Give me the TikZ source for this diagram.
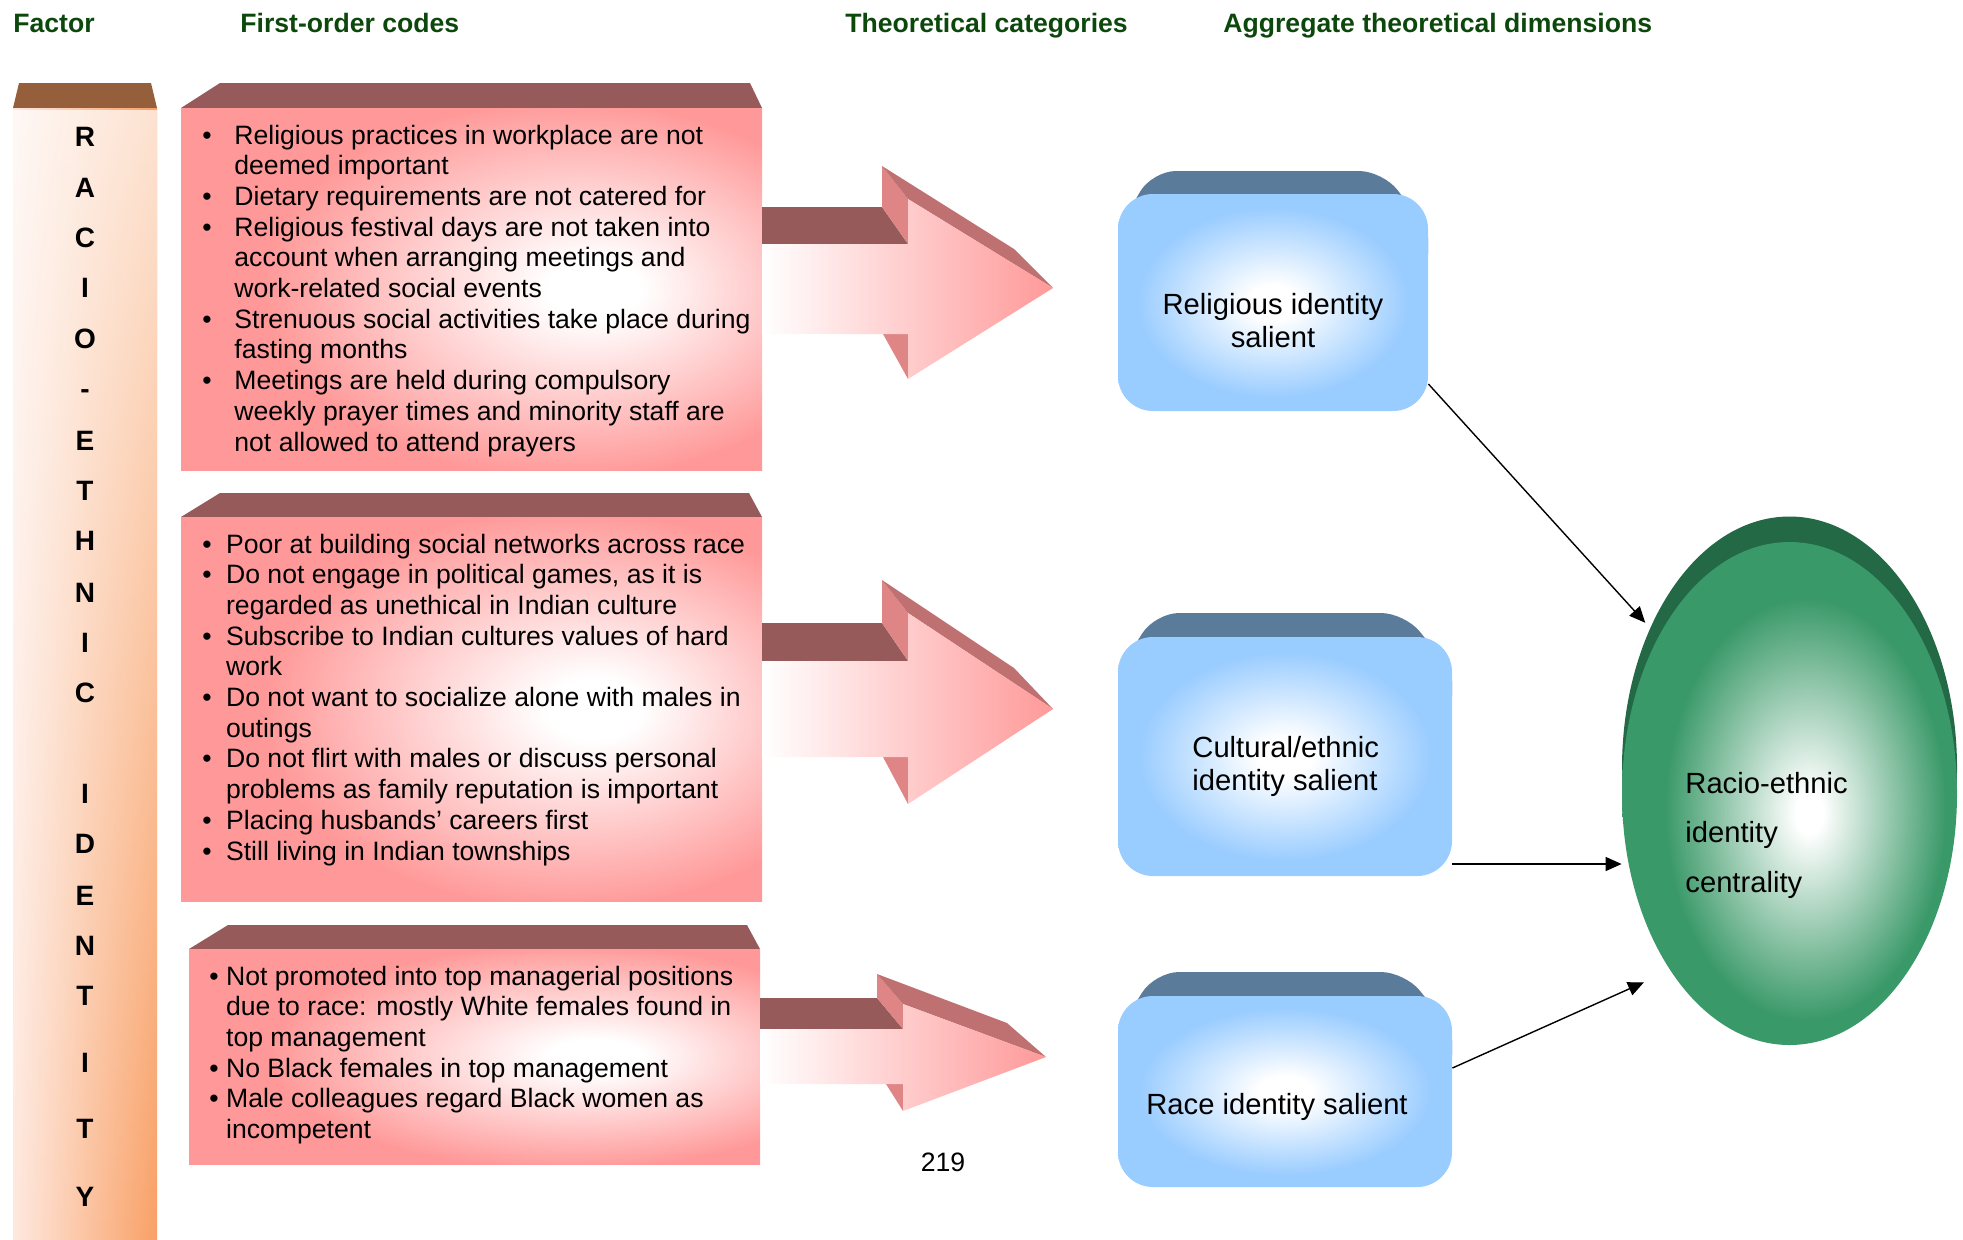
\documentclass[tikz,border=0pt]{standalone}
\usepackage{fontspec}
\setmainfont{Liberation Sans}
\usepackage{tikz}
\usetikzlibrary{shapes.geometric,arrows.meta,fadings}

\definecolor{hdrgreen}{RGB}{12,72,12}
\definecolor{factortop}{RGB}{150,95,60}
\definecolor{factorpale}{RGB}{254,233,223}
\definecolor{factororange}{RGB}{249,160,102}
\definecolor{pinkbase}{RGB}{255,153,153}
\definecolor{pinktop}{RGB}{150,90,90}
\definecolor{arrowside}{RGB}{224,133,133}
\definecolor{arrowslant}{RGB}{191,112,112}
\definecolor{bluebase}{RGB}{153,204,255}
\definecolor{bluetop}{RGB}{91,123,155}
\definecolor{greenbase}{RGB}{58,153,104}
\definecolor{greendark}{RGB}{35,105,70}

\pgfdeclareradialshading{pinkglow}{\pgfpoint{11bp}{0bp}}{color(0bp)=(white); color(4bp)=(white); color(26bp)=(pinkbase); color(100bp)=(pinkbase)}
\pgfdeclareradialshading{blueglow}{\pgfpoint{0bp}{0bp}}{color(0bp)=(white); color(4bp)=(white); color(22bp)=(bluebase); color(100bp)=(bluebase)}
\pgfdeclareradialshading{greenglow}{\pgfpoint{3bp}{-2bp}}{color(0bp)=(white); color(2bp)=(white); color(21bp)=(greenbase); color(100bp)=(greenbase)}
\tikzfading[name=fadedown, top color=transparent!30, bottom color=transparent!100]

\begin{document}
\begin{tikzpicture}[x=0.5pt,y=-0.5pt,
    header/.style={anchor=base west, inner sep=0, text=hdrgreen, font=\fontsize{13.3}{16}\selectfont\bfseries},
    letter/.style={anchor=base, inner sep=0, font=\fontsize{14}{16}\selectfont\bfseries},
    codes/.style={anchor=base west, inner sep=0, font=\fontsize{13.3}{15.35}\selectfont},
    idtext/.style={inner sep=0, font=\fontsize{14.6}{16.65}\selectfont},
    bluebox/.style={rectangle, rounded corners=17.5pt, shade, shading=blueglow, inner sep=0, minimum width=167pt},
    linkarrow/.style={line width=0.7pt, -{Triangle[length=8pt,width=7pt]}},
    arrowfront/.style={left color=white, right color=pinkbase}]

    \useasboundingbox (0,0) rectangle (1963,1239);

    % column headings
    \node[header] (hfactor) at (13,32) {Factor};
    \node[header] (hcodes) at (240,32) {First-order codes};
    \node[header] (hcats) at (845,32) {Theoretical categories};
    \node[header] (hdims) at (1223,32) {Aggregate theoretical dimensions};

    % factor column
    \fill[factortop] (13,108) -- (19,83) -- (151,83) -- (157,108) -- cycle;
    \shade[left color=factorpale, right color=factororange] (13,108) rectangle (157,1239);
    \fill[white, path fading=fadedown] (13,108) rectangle (157,1239);
    \foreach \ltr/\yy [count=\i] in {R/146, A/197, C/247, I/297, O/348, -/398, E/450, T/500, H/550, N/602,
        I/652, C/702, I/803, D/853, E/905, N/955, T/1005, I/1072, T/1138, Y/1206} {
        \node[letter] (ltr\i) at (85,\yy) {\ltr};
    }

    % first-order code boxes
    \fill[pinktop] (181,108) -- (220,83) -- (750,83) -- (762,108) -- cycle;
    \shade[shading=pinkglow] (181,108) rectangle (762,470);
    \fill[pinktop] (181,517) -- (220,493) -- (749,493) -- (762,517) -- cycle;
    \shade[shading=pinkglow] (181,517) rectangle (762,901);
    \fill[pinktop] (189,949) -- (228,925) -- (747,925) -- (760,949) -- cycle;
    \shade[shading=pinkglow] (189,949) rectangle (760,1164);

    \node[codes] (codesA) at (202,144) {\begin{tabular}[t]{@{}l@{\hspace{11.35pt}}l@{}}
        \textbullet & Religious practices in workplace are not\\
        & deemed important\\
        \textbullet & Dietary requirements are not catered for\\
        \textbullet & Religious festival days are not taken into\\
        & account when arranging meetings and\\
        & work-related social events\\
        \textbullet & Strenuous social activities take place during\\
        & fasting months\\
        \textbullet & Meetings are held during compulsory\\
        & weekly prayer times and minority staff are\\
        & not allowed to attend prayers
    \end{tabular}};
    \node[codes] (codesB) at (202,553) {\begin{tabular}[t]{@{}l@{\hspace{7.2pt}}l@{}}
        \textbullet & Poor at building social networks across race\\
        \textbullet & Do not engage in political games, as it is\\
        & regarded as unethical in Indian culture\\
        \textbullet & Subscribe to Indian cultures values of hard\\
        & work\\
        \textbullet & Do not want to socialize alone with males in\\
        & outings\\
        \textbullet & Do not flirt with males or discuss personal\\
        & problems as family reputation is important\\
        \textbullet & Placing husbands’ careers first\\
        \textbullet & Still living in Indian townships
    \end{tabular}};
    \node[codes] (codesC) at (209,985) {\begin{tabular}[t]{@{}l@{\hspace{3.7pt}}l@{}}
        \textbullet & Not promoted into top managerial positions\\
        & due to race: mostly White females found in\\
        & top management\\
        \textbullet & No Black females in top management\\
        \textbullet & Male colleagues regard Black women as\\
        & incompetent
    \end{tabular}};

    % block arrows
    \fill[pinktop] (762,207) -- (882,207) -- (908,244) -- (762,244) -- cycle;
    \fill[arrowside] (882,166) -- (908,199) -- (908,244) -- (882,207) -- cycle;
    \fill[arrowside] (883,334) -- (908,334) -- (908,379) -- cycle;
    \fill[arrowslant] (882,166) -- (1014,249) -- (1053,288) -- (908,199) -- cycle;
    \shade[arrowfront] (762,244) -- (908,244) -- (908,199) -- (1053,288) -- (908,379) -- (908,334) -- (762,334) -- cycle;

    \fill[pinktop] (762,623) -- (882,623) -- (908,661) -- (762,661) -- cycle;
    \fill[arrowside] (882,580) -- (908,613) -- (908,661) -- (882,623) -- cycle;
    \fill[arrowside] (883,757) -- (908,757) -- (908,804) -- cycle;
    \fill[arrowslant] (882,580) -- (1014,668) -- (1053,709) -- (908,613) -- cycle;
    \shade[arrowfront] (762,661) -- (908,661) -- (908,613) -- (1053,709) -- (908,804) -- (908,757) -- (762,757) -- cycle;

    \fill[pinktop] (760,998) -- (877,998) -- (903,1029) -- (760,1029) -- cycle;
    \fill[arrowside] (877,974) -- (903,1004) -- (903,1029) -- (877,998) -- cycle;
    \fill[arrowside] (886,1084) -- (903,1084) -- (903,1111) -- cycle;
    \fill[arrowslant] (877,974) -- (1007,1023) -- (1046,1057) -- (903,1004) -- cycle;
    \shade[arrowfront] (760,1029) -- (903,1029) -- (903,1004) -- (1046,1057) -- (903,1111) -- (903,1084) -- (760,1084) -- cycle;

    % theoretical categories
    \fill[bluetop, rounded corners=12pt] (1118,262) -- (1118,230) -- (1152,171) -- (1383,171) -- (1428,230) -- (1428,262) -- cycle;
    \node[bluebox, minimum width=155pt, minimum height=108.5pt] (relA) at (1273,302.5) {};
    \fill[bluetop, rounded corners=12pt] (1118,705) -- (1118,672) -- (1155,613) -- (1405,613) -- (1452,672) -- (1452,705) -- cycle;
    \node[bluebox, minimum height=119.5pt] (cultB) at (1285,756.5) {};
    \fill[bluetop, rounded corners=12pt] (1118,1064) -- (1118,1031) -- (1155,972) -- (1405,972) -- (1452,1031) -- (1452,1064) -- cycle;
    \node[bluebox, minimum height=95.5pt] (raceC) at (1285,1091.5) {};

    \node[idtext, anchor=base] (relT) at (1273,314) {\begin{tabular}[t]{@{}c@{}}Religious identity\\ salient\end{tabular}};
    \node[idtext, anchor=base west] (cultT) at (1192,757) {\begin{tabular}[t]{@{}l@{}}Cultural/ethnic\\ identity salient\end{tabular}};
    \node[idtext, anchor=base] (raceT) at (1277,1114) {Race identity salient};

    % aggregate dimension
    \fill[greendark] (1789.5,768) ellipse (167.5 and 251.5);
    \fill[greendark] (1622,768) rectangle (1957,793.5);
    \node[ellipse, shade, shading=greenglow, inner sep=0, minimum width=167.5pt, minimum height=251.5pt] (core) at (1789.5,793.5) {};
    \node[idtext, anchor=base west, font=\fontsize{14.6}{24.75}\selectfont] (coreT) at (1685,793)
        {\begin{tabular}[t]{@{}l@{}}Racio-ethnic\\ identity\\ centrality\end{tabular}};

    % links
    \coordinate (relout) at ([yshift=-40.75pt]relA.east);
    \coordinate (cultout) at ([yshift=-53.75pt]cultB.east);
    \coordinate (raceout) at ([yshift=11.75pt]raceC.east);
    \draw[linkarrow, shorten >=9.5pt] (relout) -- (core.130.3);
    \draw[linkarrow] (cultout) -- (cultout -| core.west);
    \draw[linkarrow, shorten >=14.3pt] (raceout) -- (core.236.4);

    \node[codes, anchor=base] (pageno) at (943,1171) {219};
\end{tikzpicture}
\end{document}
